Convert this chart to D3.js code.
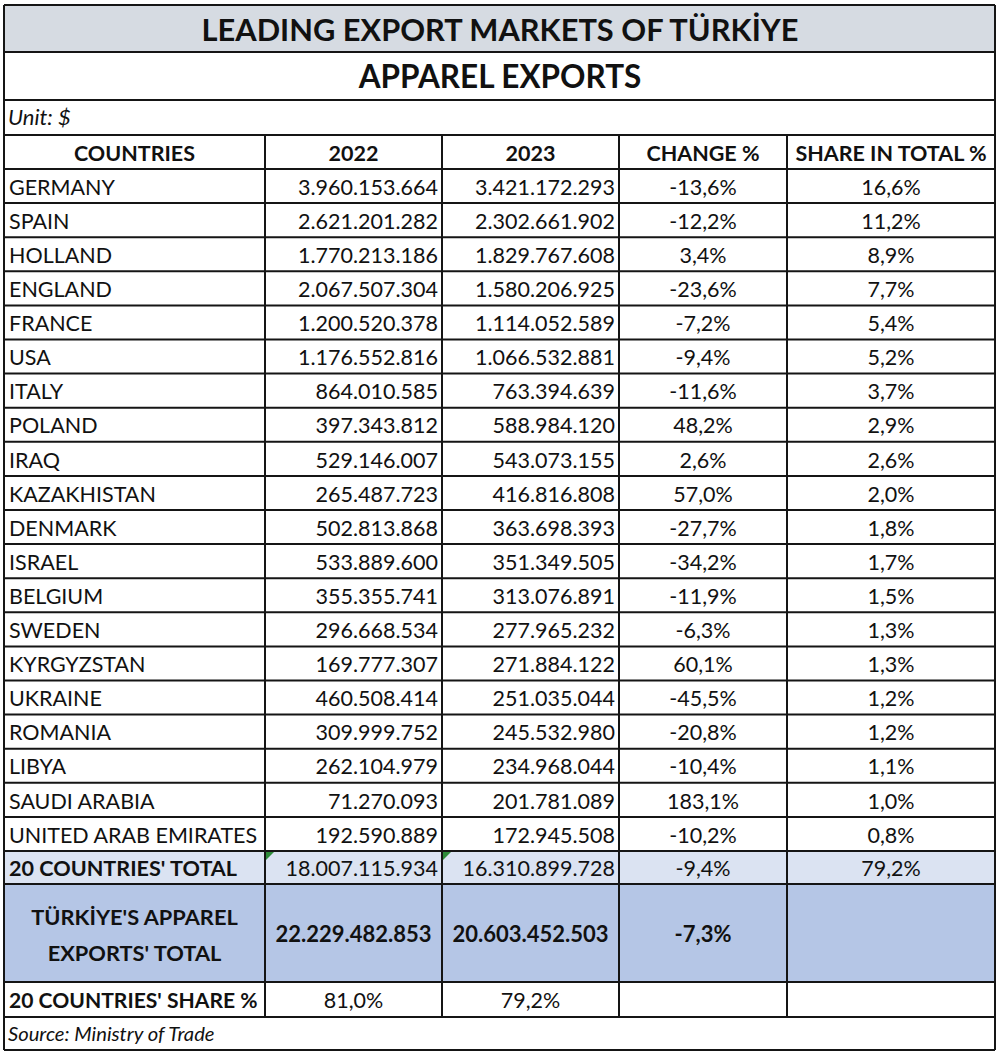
<!DOCTYPE html>
<html><head><meta charset="utf-8">
<script src="https://cdn.jsdelivr.net/npm/d3@7"></script>
<style>body{margin:0;background:#fff}svg{display:block}</style>
</head><body><svg id="c" width="1000" height="1058"></svg>
<script>
const title = "LEADING EXPORT MARKETS OF TÜRKİYE";
const subtitle = "APPAREL EXPORTS";
const unitLabel = "Unit: $";
const sourceLabel = "Source: Ministry of Trade";
const headers = ["COUNTRIES", "2022", "2023", "CHANGE %", "SHARE IN TOTAL %"];
const countries = ["GERMANY","SPAIN","HOLLAND","ENGLAND","FRANCE","USA","ITALY","POLAND","IRAQ","KAZAKHISTAN","DENMARK","ISRAEL","BELGIUM","SWEDEN","KYRGYZSTAN","UKRAINE","ROMANIA","LIBYA","SAUDI ARABIA","UNITED ARAB EMIRATES"];
const exports2022 = [3960153664,2621201282,1770213186,2067507304,1200520378,1176552816,864010585,397343812,529146007,265487723,502813868,533889600,355355741,296668534,169777307,460508414,309999752,262104979,71270093,192590889];
const exports2023 = [3421172293,2302661902,1829767608,1580206925,1114052589,1066532881,763394639,588984120,543073155,416816808,363698393,351349505,313076891,277965232,271884122,251035044,245532980,234968044,201781089,172945508];
const changePct = [-13.6,-12.2,3.4,-23.6,-7.2,-9.4,-11.6,48.2,2.6,57.0,-27.7,-34.2,-11.9,-6.3,60.1,-45.5,-20.8,-10.4,183.1,-10.2];
const sharePct = [16.6,11.2,8.9,7.7,5.4,5.2,3.7,2.9,2.6,2.0,1.8,1.7,1.5,1.3,1.3,1.2,1.2,1.1,1.0,0.8];
const totalLabel = "20 COUNTRIES' TOTAL";
const totalValues = [18007115934, 16310899728];
const totalChange = -9.4, totalShare = 79.2;
const turkiyeLabel = ["TÜRKİYE'S APPAREL", "EXPORTS' TOTAL"];
const turkiyeValues = [22229482853, 20603452503];
const turkiyeChange = -7.3;
const shareLabel = "20 COUNTRIES' SHARE %";
const shareValues = [81.0, 79.2];

const loc = d3.formatLocale({decimal:",", thousands:".", grouping:[3], currency:["","$"], minus:"-"});
const fInt = loc.format(",d");
const fPct = v => loc.format(".1f")(v) + "%";

const svg = d3.select("#c");
const FONT = "Lato, 'Open Sans', sans-serif";
const FS = 21.5;
const col = d3.scaleLinear().domain([0,1,2,3,4,5]).range([4,265,442,619,787,995]);
const row = d3.scaleBand().domain(d3.range(countries.length)).range([169, 851]);
const Y = {top:5, sub:52, unit:100, head:135, dataTop:169, total:851, tur:884, share:982, src:1017, bottom:1050};

// fills
svg.append("rect").attr("x",col(0)).attr("y",Y.top).attr("width",col(5)-col(0)).attr("height",Y.sub-Y.top).attr("fill","#d6dbe2");
svg.append("rect").attr("x",col(0)).attr("y",Y.total).attr("width",col(5)-col(0)).attr("height",Y.tur-Y.total).attr("fill","#dbe3f2");
svg.append("rect").attr("x",col(0)).attr("y",Y.tur).attr("width",col(5)-col(0)).attr("height",Y.share-Y.tur).attr("fill","#b5c6e6");

// grid lines
const g = svg.append("g").attr("stroke","#151515").attr("stroke-width",2);
const hLines = [Y.top, Y.sub, Y.unit, Y.head, ...countries.map((d,i)=>row(i)), Y.total, Y.tur, Y.share, Y.src, Y.bottom];
g.selectAll("line.h").data(hLines).join("line").attr("class","h")
  .attr("x1",col(0)).attr("x2",col(5)).attr("y1",d=>d).attr("y2",d=>d);
g.selectAll("line.v").data([1,2,3,4]).join("line").attr("class","v")
  .attr("x1",d=>col(d)).attr("x2",d=>col(d)).attr("y1",Y.head).attr("y2",Y.src);
g.selectAll("line.o").data([0,5]).join("line").attr("class","o")
  .attr("x1",d=>col(d)).attr("x2",d=>col(d)).attr("y1",Y.top).attr("y2",Y.bottom);

// green error triangles
svg.selectAll("path.tri").data([1,2]).join("path").attr("class","tri")
  .attr("d",d=>`M${col(d)+1},${Y.total+1}h8l-8,8z`).attr("fill","#2e8b3a");

const T = svg.append("g").attr("font-family",FONT).attr("fill","#111");
function txt(x, y, s, o={}) {
  return T.append("text").attr("x",x).attr("y",y).attr("dy","0.36em")
    .attr("text-anchor",o.anchor||"start").attr("font-size",o.size||FS)
    .attr("font-weight",o.bold?"bold":"normal").attr("font-style",o.italic?"italic":"normal").text(s);
}
const mid = c => (col(c)+col(c+1))/2;
const PAD = 5, RPAD = 4;

txt(500, (Y.top+Y.sub)/2+1, title, {anchor:"middle", size:30.8, bold:true});
txt(500, (Y.sub+Y.unit)/2+1, subtitle, {anchor:"middle", size:31.5, bold:true});
txt(col(0)+4, (Y.unit+Y.head)/2, unitLabel, {size:22, italic:true});
txt(col(0)+4, (Y.src+Y.bottom)/2, sourceLabel, {size:20.2, italic:true});

headers.forEach((h,i)=>txt(mid(i), (Y.head+Y.dataTop)/2+1, h, {anchor:"middle", bold:true, size:21.5}));

const bw = row.bandwidth();
countries.forEach((c,i)=>{
  const yc = row(i)+bw/2+1;
  txt(col(0)+PAD, yc, c);
  txt(col(2)-RPAD, yc, fInt(exports2022[i]), {anchor:"end"});
  txt(col(3)-RPAD, yc, fInt(exports2023[i]), {anchor:"end"});
  txt(mid(3), yc, fPct(changePct[i]), {anchor:"middle"});
  txt(mid(4), yc, fPct(sharePct[i]), {anchor:"middle"});
});

let yc = (Y.total+Y.tur)/2+1;
txt(col(0)+PAD, yc, totalLabel, {bold:true, size:21.6});
txt(col(2)-RPAD, yc, fInt(totalValues[0]), {anchor:"end"});
txt(col(3)-RPAD, yc, fInt(totalValues[1]), {anchor:"end"});
txt(mid(3), yc, fPct(totalChange), {anchor:"middle"});
txt(mid(4), yc, fPct(totalShare), {anchor:"middle"});

yc = (Y.tur+Y.share)/2;
txt(mid(0), yc-16, turkiyeLabel[0], {anchor:"middle", bold:true, size:21.8});
txt(mid(0), yc+20, turkiyeLabel[1], {anchor:"middle", bold:true, size:21.8});
txt(mid(1), yc+1, fInt(turkiyeValues[0]), {anchor:"middle", bold:true, size:22});
txt(mid(2), yc+1, fInt(turkiyeValues[1]), {anchor:"middle", bold:true, size:22});
txt(mid(3), yc+1, fPct(turkiyeChange), {anchor:"middle", bold:true, size:22});

yc = (Y.share+Y.src)/2+1;
txt(col(0)+PAD, yc, shareLabel, {bold:true, size:21.1});
txt(mid(1), yc, fPct(shareValues[0]), {anchor:"middle"});
txt(mid(2), yc, fPct(shareValues[1]), {anchor:"middle"});
</script></body></html>
